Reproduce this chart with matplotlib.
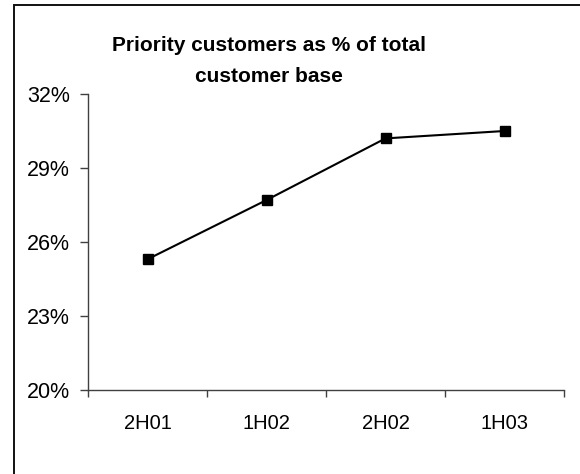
import matplotlib
matplotlib.use("Agg")
import matplotlib.pyplot as plt
from matplotlib.patches import Rectangle
from matplotlib.ticker import FixedLocator, FuncFormatter

periods = ["2H01", "1H02", "2H02", "1H03"]
priority_share = [25.3, 27.7, 30.2, 30.5]  # % of total customer base
y_ticks = [20, 23, 26, 29, 32]

plt.rcParams['font.family'] = ['Liberation Sans', 'DejaVu Sans']

fig = plt.figure(figsize=(5.8, 4.74), dpi=100)
ax = fig.add_axes([88 / 580, 84 / 474, 476 / 580, 296 / 474])

x = list(range(len(periods)))
ax.plot(x, priority_share, color='black', linewidth=1.5,
        marker='s', markersize=6.5, markerfacecolor='black',
        markeredgecolor='black', clip_on=False)

ax.set_xlim(-0.5, len(periods) - 0.5)
ax.set_ylim(y_ticks[0], y_ticks[-1])

# category ticks sit between the points, labels sit under them
ax.xaxis.set_major_locator(FixedLocator([i - 0.5 for i in range(len(periods) + 1)]))
ax.xaxis.set_minor_locator(FixedLocator(x))
ax.xaxis.set_major_formatter(FuncFormatter(lambda v, p: ""))
ax.set_xticks(x, periods, minor=True)
ax.tick_params(axis='x', which='major', direction='out', length=5,
               width=1, color='#404040')
ax.tick_params(axis='x', which='minor', length=0, pad=17, labelsize=14.5)

ax.set_yticks(y_ticks)
ax.yaxis.set_major_formatter(FuncFormatter(lambda v, p: f"{v:.0f}%"))
ax.tick_params(axis='y', direction='out', length=6, width=1,
               color='#404040', pad=7, labelsize=15.5)

for side in ['top', 'right']:
    ax.spines[side].set_visible(False)
for side in ['left', 'bottom']:
    ax.spines[side].set_color('#404040')
    ax.spines[side].set_linewidth(1)

fig.text(269 / 580, 1 - 82 / 474, "Priority customers as % of total\ncustomer base",
         ha='center', va='baseline', fontsize=15, fontweight='bold',
         linespacing=1.8, multialignment='center')

# chart-area frame, running off the right and bottom edges
frame = Rectangle((14 / 580, -0.1), 1.1, 1.1 - 4.5 / 474, transform=fig.transFigure,
                  fill=False, edgecolor='#111111', linewidth=1.4)
fig.patches.append(frame)

fig.savefig("out.png", dpi=100, facecolor='white')
